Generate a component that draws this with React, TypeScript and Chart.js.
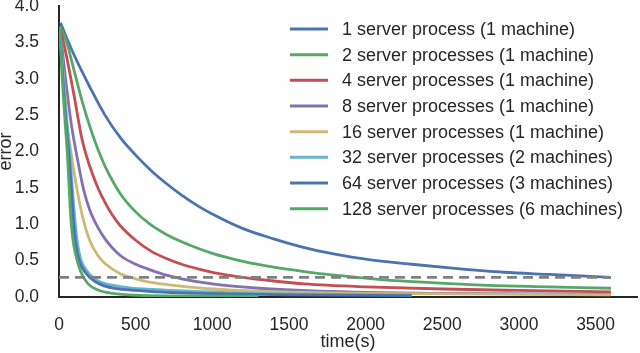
import React, { useEffect, useRef } from 'react';
import { Chart, registerables } from 'chart.js';

Chart.register(...registerables);

const seriesLabels = [
  '1 server process (1 machine)',
  '2 server processes (1 machine)',
  '4 server processes (1 machine)',
  '8 server processes (1 machine)',
  '16 server processes (1 machine)',
  '32 server processes (2 machines)',
  '64 server processes (3 machines)',
  '128 server processes (6 machines)',
];
const seriesColors = ['#4C72B0', '#55A868', '#C44E52', '#8172B2', '#CCB974', '#64B5CD', '#4C72B0', '#55A868'];

const t1 = [10, 50, 100, 150, 200, 300, 400, 500, 600, 700, 800, 900, 1000, 1200, 1400, 1600, 1800, 2000, 2300, 2600, 2900, 3200, 3600];
const v1 = [3.77, 3.56, 3.32, 3.1, 2.89, 2.5, 2.19, 1.95, 1.74, 1.56, 1.4, 1.26, 1.14, 0.94, 0.8, 0.68, 0.59, 0.52, 0.45, 0.39, 0.34, 0.31, 0.27];

const t2 = [8, 50, 100, 150, 200, 250, 300, 400, 500, 600, 700, 800, 1000, 1200, 1400, 1600, 1800, 2100, 2400, 2800, 3200, 3600];
const v2 = [3.72, 3.5, 3.1, 2.7, 2.35, 2.05, 1.8, 1.42, 1.17, 0.99, 0.86, 0.76, 0.6, 0.49, 0.41, 0.35, 0.3, 0.24, 0.2, 0.16, 0.14, 0.12];

const t4 = [8, 50, 100, 150, 200, 250, 300, 350, 400, 500, 600, 700, 800, 900, 1000, 1200, 1400, 1600, 2000, 2500, 3000, 3600];
const v4 = [3.7, 3.3, 2.75, 2.17, 1.8, 1.52, 1.3, 1.12, 0.98, 0.78, 0.63, 0.53, 0.45, 0.39, 0.34, 0.27, 0.22, 0.18, 0.14, 0.11, 0.09, 0.07];

const t8 = [10, 40, 80, 120, 160, 200, 250, 300, 400, 500, 600, 700, 800, 1000, 1300, 1700, 2500, 3600];
const v8 = [3.62, 3.05, 2.38, 1.9, 1.48, 1.2, 0.97, 0.8, 0.57, 0.45, 0.37, 0.3, 0.25, 0.18, 0.12, 0.08, 0.05, 0.04];

const t16 = [8, 30, 55, 85, 120, 160, 200, 250, 300, 400, 500, 600, 750, 1000, 1300, 2000, 3600];
const v16 = [3.58, 3.0, 2.35, 1.9, 1.45, 1.05, 0.78, 0.58, 0.46, 0.32, 0.25, 0.2, 0.16, 0.11, 0.08, 0.05, 0.03];

const t32 = [7, 28, 50, 72, 87, 109, 125, 145, 189, 254, 330, 410, 550, 737, 1100, 1600, 2300];
const v32 = [3.66, 3.0, 2.4, 1.95, 1.5, 0.95, 0.68, 0.5, 0.34, 0.22, 0.17, 0.14, 0.11, 0.09, 0.06, 0.04, 0.03];

const t64 = [6, 25, 45, 65, 80, 98, 115, 135, 170, 235, 300, 365, 500, 626, 900, 1500, 2300];
const v64 = [3.68, 3.0, 2.4, 1.95, 1.5, 0.95, 0.66, 0.48, 0.34, 0.21, 0.15, 0.12, 0.09, 0.07, 0.05, 0.03, 0.02];

const t128 = [5, 20, 40, 55, 65, 75, 90, 110, 130, 150, 190, 250, 320, 450, 800, 1300];
const v128 = [3.7, 3.05, 2.4, 1.95, 1.55, 1.15, 0.8, 0.57, 0.42, 0.31, 0.18, 0.1, 0.06, 0.03, 0.015, 0.01];

const seriesTimes = [t1, t2, t4, t8, t16, t32, t64, t128];
const seriesValues = [v1, v2, v4, v8, v16, v32, v64, v128];

const thresholdTimes = [0, 3600];
const thresholdValues = [0.27, 0.27];

const xTickValues = [0, 500, 1000, 1500, 2000, 2500, 3000, 3500];
const yTickValues = [0, 0.5, 1, 1.5, 2, 2.5, 3, 3.5, 4];

const FONT = '"Liberation Sans", Arial, Helvetica, sans-serif';
const TEXT = '#262626';

const insideLegend = {
  id: 'insideLegend',
  afterDraw(chart: any) {
    const { ctx, chartArea } = chart;
    ctx.save();
    ctx.font = `18px ${FONT}`;
    ctx.textBaseline = 'middle';
    ctx.textAlign = 'left';
    const lineX = chartArea.right - 347;
    const lineLen = 38;
    const textX = lineX + 52;
    const y0 = chartArea.top + 23;
    const step = 25.67;
    seriesLabels.forEach((label, i) => {
      const y = y0 + i * step;
      ctx.strokeStyle = seriesColors[i];
      ctx.lineWidth = 3;
      ctx.lineCap = 'butt';
      ctx.beginPath();
      ctx.moveTo(lineX, y);
      ctx.lineTo(lineX + lineLen, y);
      ctx.stroke();
      ctx.fillStyle = TEXT;
      ctx.fillText(label, textX, y + 1);
    });
    ctx.restore();
  },
};

export default function App() {
  const ref = useRef<HTMLCanvasElement | null>(null);
  useEffect(() => {
    document.body.style.margin = '0';
    if (!ref.current) return;
    const datasets: any[] = seriesLabels.map((label, i) => ({
      label,
      data: seriesTimes[i].map((t, j) => ({ x: t, y: seriesValues[i][j] })),
      borderColor: seriesColors[i],
      borderWidth: 2.8,
      pointRadius: 0,
      fill: false,
      cubicInterpolationMode: 'monotone',
      order: 10 - i,
    }));
    datasets.push({
      label: 'threshold',
      data: thresholdTimes.map((t, j) => ({ x: t, y: thresholdValues[j] })),
      borderColor: '#808080',
      borderWidth: 2.6,
      borderDash: [10, 6],
      pointRadius: 0,
      fill: false,
      order: 0,
    });
    const chart = new Chart(ref.current, {
      type: 'line',
      data: { datasets },
      plugins: [insideLegend],
      options: {
        animation: false,
        responsive: true,
        maintainAspectRatio: false,
        layout: { padding: { top: 6, right: 3, left: 0, bottom: 0 } },
        plugins: { legend: { display: false }, tooltip: { enabled: false } },
        scales: {
          x: {
            type: 'linear',
            min: 0,
            max: 3770,
            afterBuildTicks: (s: any) => { s.ticks = xTickValues.map((v) => ({ value: v })); },
            afterFit: (s: any) => { s.height = 56; s.paddingLeft = 0; s.paddingRight = 0; },
            grid: { display: false },
            border: { display: true, color: TEXT, width: 2 },
            ticks: { color: TEXT, padding: 10, font: { family: FONT, size: 17.5 }, callback: (v: any) => String(v) },
            title: { display: true, text: 'time(s)', color: TEXT, font: { family: FONT, size: 18 }, padding: { top: 0, bottom: 0 } },
          },
          y: {
            min: 0,
            max: 4,
            afterBuildTicks: (s: any) => { s.ticks = yTickValues.map((v) => ({ value: v })); },
            afterFit: (s: any) => { s.width = 59; s.paddingTop = 0; s.paddingBottom = 0; },
            grid: { display: false },
            border: { display: true, color: TEXT, width: 2 },
            ticks: { color: TEXT, padding: 12, font: { family: FONT, size: 17.5 }, callback: (v: any) => Number(v).toFixed(1) },
            title: { display: true, text: 'error', color: TEXT, font: { family: FONT, size: 18, lineHeight: 0.7 }, padding: { top: 0, bottom: 0 } },
          },
        },
      },
    });
    return () => chart.destroy();
  }, []);
  return (
    <div style={{ width: 640, height: 353, position: 'relative' }}>
      <canvas ref={ref} />
    </div>
  );
}
